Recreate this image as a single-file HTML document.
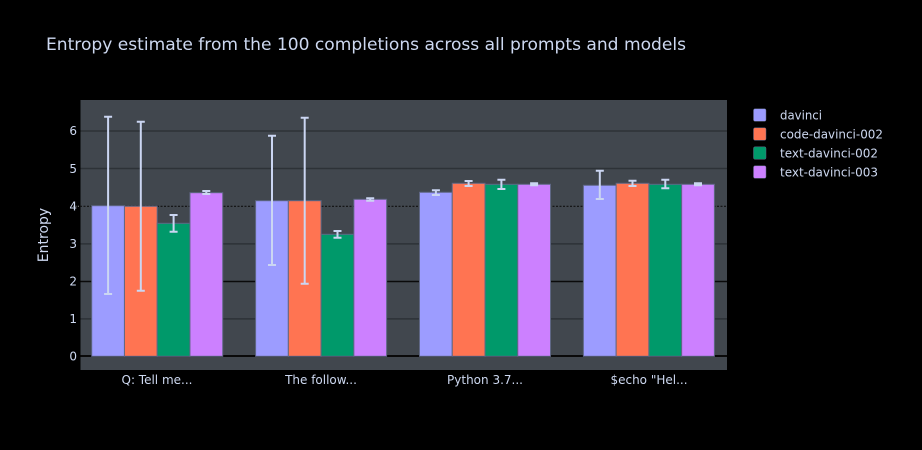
<!DOCTYPE html>
<html>
<head>
<meta charset="utf-8">
<style>
  html, body { margin: 0; padding: 0; background: #000; }
  svg { display: block; }
  text { font-family: "DejaVu Sans", "Liberation Sans", sans-serif; fill: #cdd8f0; }
</style>
</head>
<body>
<svg width="922" height="450" viewBox="0 0 922 450" xmlns="http://www.w3.org/2000/svg">
  <rect x="0" y="0" width="922" height="450" fill="#000"/>
  <!-- title -->
  <text x="46" y="50" font-size="17" textLength="640" lengthAdjust="spacingAndGlyphs">Entropy estimate from the 100 completions across all prompts and models</text>

  <!-- plot background -->
  <rect x="80.5" y="100" width="646.5" height="270" fill="#41474e"/>

  <!-- gridlines -->
  <g stroke="#2d3237" stroke-width="1.5">
    <line x1="80.5" x2="727" y1="131" y2="131"/>
    <line x1="80.5" x2="727" y1="168.5" y2="168.5"/>
    <line x1="80.5" x2="727" y1="243.9" y2="243.9"/>
    <line x1="80.5" x2="727" y1="318.9" y2="318.9"/>
  </g>
  <line x1="80.5" x2="727" y1="281.5" y2="281.5" stroke="#0a0a0a" stroke-width="1.5"/>
  <line x1="73" x2="727" y1="206.3" y2="206.3" stroke="#111" stroke-width="1.2" stroke-dasharray="2,1.5"/>
  <line x1="73" x2="80.5" y1="206.3" y2="206.3" stroke="#888" stroke-width="1" stroke-dasharray="1,1.5"/>
  <line x1="80.5" x2="727" y1="356" y2="356" stroke="#0a0a0a" stroke-width="2"/>

  <!-- bars -->
  <g stroke="#5f6785" stroke-width="1">
    <!-- group 1 -->
    <rect x="91.7" y="205.7" width="32.75" height="150.6" fill="#9c9cff"/>
    <rect x="124.45" y="206.3" width="32.75" height="150" fill="#ff7452"/>
    <rect x="157.2" y="223.3" width="32.75" height="133" fill="#00996a"/>
    <rect x="189.95" y="192.7" width="32.75" height="163.6" fill="#cc80ff"/>
    <!-- group 2 -->
    <rect x="255.6" y="200.7" width="32.75" height="155.6" fill="#9c9cff"/>
    <rect x="288.35" y="200.7" width="32.75" height="155.6" fill="#ff7452"/>
    <rect x="321.1" y="234.3" width="32.75" height="122" fill="#00996a"/>
    <rect x="353.85" y="199.3" width="32.75" height="157" fill="#cc80ff"/>
    <!-- group 3 -->
    <rect x="419.5" y="192.3" width="32.75" height="164" fill="#9c9cff"/>
    <rect x="452.25" y="183.3" width="32.75" height="173" fill="#ff7452"/>
    <rect x="485" y="184.3" width="32.75" height="172" fill="#00996a"/>
    <rect x="517.75" y="184.3" width="32.75" height="172" fill="#cc80ff"/>
    <!-- group 4 -->
    <rect x="583.4" y="185.3" width="32.75" height="171" fill="#9c9cff"/>
    <rect x="616.15" y="183.3" width="32.75" height="173" fill="#ff7452"/>
    <rect x="648.9" y="184.3" width="32.75" height="172" fill="#00996a"/>
    <rect x="681.65" y="184.3" width="32.75" height="172" fill="#cc80ff"/>
  </g>

  <!-- error bars -->
  <g stroke="#cbd6f2" stroke-width="2" fill="none">
    <!-- g1 -->
    <path d="M108.1 116.7V294 M104.1 116.7H112.1 M104.1 294H112.1"/>
    <path d="M140.8 121.7V290.7 M136.8 121.7H144.8 M136.8 290.7H144.8"/>
    <path d="M173.6 215V231.7 M169.6 215H177.6 M169.6 231.7H177.6"/>
    <path d="M206.3 191V194 M202.3 191H210.3 M202.3 194H210.3"/>
    <!-- g2 -->
    <path d="M272 135.7V265 M268 135.7H276 M268 265H276"/>
    <path d="M304.7 117.7V283.7 M300.7 117.7H308.7 M300.7 283.7H308.7"/>
    <path d="M337.5 231V237.7 M333.5 231H341.5 M333.5 237.7H341.5"/>
    <path d="M370.2 198.3V200.7 M366.2 198.3H374.2 M366.2 200.7H374.2"/>
    <!-- g3 -->
    <path d="M435.9 190.3V195 M431.9 190.3H439.9 M431.9 195H439.9"/>
    <path d="M468.6 181V186 M464.6 181H472.6 M464.6 186H472.6"/>
    <path d="M501.4 179.7V189 M497.4 179.7H505.4 M497.4 189H505.4"/>
    <path d="M534.1 183.3V185.3 M530.1 183.3H538.1 M530.1 185.3H538.1"/>
    <!-- g4 -->
    <path d="M599.8 170.7V199 M595.8 170.7H603.8 M595.8 199H603.8"/>
    <path d="M632.5 180.7V186 M628.5 180.7H636.5 M628.5 186H636.5"/>
    <path d="M665.3 179.7V188.3 M661.3 179.7H669.3 M661.3 188.3H669.3"/>
    <path d="M698 183.3V185.3 M694 183.3H702 M694 185.3H702"/>
  </g>

  <!-- y tick labels -->
  <g font-size="12" text-anchor="end">
    <text x="77" y="360.5">0</text>
    <text x="77" y="323">1</text>
    <text x="77" y="285.7">2</text>
    <text x="77" y="248">3</text>
    <text x="77" y="210.5">4</text>
    <text x="77" y="172.8">5</text>
    <text x="77" y="135.2">6</text>
  </g>
  <!-- y axis title -->
  <text x="0" y="0" font-size="14" text-anchor="middle" transform="translate(48,235) rotate(-90)">Entropy</text>

  <!-- x tick labels -->
  <g font-size="12" text-anchor="middle">
    <text x="157" y="384">Q: Tell me...</text>
    <text x="321" y="384">The follow...</text>
    <text x="485" y="384">Python 3.7...</text>
    <text x="649" y="384">$echo "Hel...</text>
  </g>

  <!-- legend -->
  <g stroke="#5f6785" stroke-width="0.5">
    <rect x="753.5" y="108.8" width="12.5" height="12.5" rx="1.5" fill="#9c9cff"/>
    <rect x="753.5" y="127.8" width="12.5" height="12.5" rx="1.5" fill="#ff7452"/>
    <rect x="753.5" y="146.8" width="12.5" height="12.5" rx="1.5" fill="#00996a"/>
    <rect x="753.5" y="165.8" width="12.5" height="12.5" rx="1.5" fill="#cc80ff"/>
  </g>
  <g font-size="12">
    <text x="780" y="119.5" textLength="42" lengthAdjust="spacingAndGlyphs">davinci</text>
    <text x="780" y="138.5" textLength="103" lengthAdjust="spacingAndGlyphs">code-davinci-002</text>
    <text x="780" y="157.5" textLength="98" lengthAdjust="spacingAndGlyphs">text-davinci-002</text>
    <text x="780" y="176.5" textLength="98" lengthAdjust="spacingAndGlyphs">text-davinci-003</text>
  </g>
</svg>
</body>
</html>
